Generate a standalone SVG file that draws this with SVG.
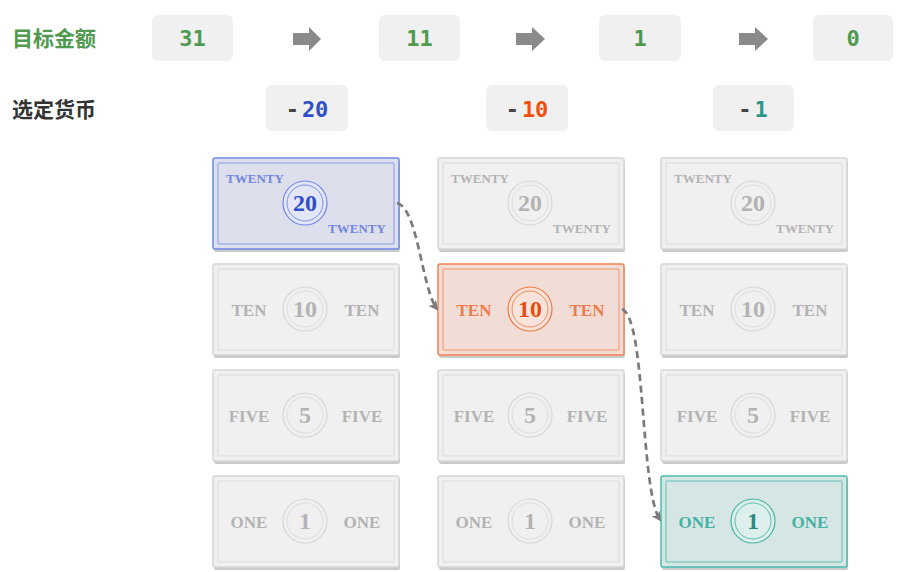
<svg xmlns="http://www.w3.org/2000/svg" width="906" height="572" viewBox="0 0 906 572">
<defs>
<style>
.lbl{font-family:"Noto Sans CJK SC","Noto Sans",sans-serif;font-size:21px;font-weight:bold}
.box{fill:#f0f0f0}
.num{font-family:"DejaVu Sans Mono","Liberation Mono",monospace;font-size:22px;font-weight:bold;text-anchor:middle}
.g{fill:#4f9a4f}
.minus{fill:#444}
.arr{fill:#8a8a8a}
.shadow{fill:#cacaca}
.word{font-family:"Liberation Serif","DejaVu Serif",serif;font-weight:bold;text-anchor:middle}
.w17{font-size:17px}
.w13{font-size:13px}
.big{font-family:"Liberation Serif","DejaVu Serif",serif;font-weight:bold;font-size:24px;text-anchor:middle}
.gray .out{fill:#f0f0f0;stroke:#d6d6d6;stroke-width:1.5}
.gray .in{fill:none;stroke:#dadada;stroke-width:1}
.gray .c1{fill:#f0f0f0;stroke:#d6d6d6;stroke-width:1.2}
.gray .c2{fill:none;stroke:#dcdcdc;stroke-width:1}
.gray text{fill:#b3b3b3}
.blue .out{fill:#dde0ec;stroke:#6f87e4;stroke-width:1.5}
.blue .in{fill:none;stroke:#8799e2;stroke-width:1}
.blue .c1{fill:#e2e6f6;stroke:#6f87e4;stroke-width:1.2}
.blue .c2{fill:none;stroke:#7b91e4;stroke-width:1}
.blue text{fill:#7086dc}
.blue text.big{fill:#2f4ec8}
.orange .out{fill:#f1ddd6;stroke:#f58352;stroke-width:1.5}
.orange .in{fill:none;stroke:#f3926a;stroke-width:1}
.orange .c1{fill:#f8e3da;stroke:#f27840;stroke-width:1.2}
.orange .c2{fill:none;stroke:#f28a5a;stroke-width:1}
.orange text{fill:#f07a48}
.orange text.big{fill:#e34f12}
.teal .out{fill:#d6e6e4;stroke:#4cbcad;stroke-width:1.5}
.teal .in{fill:none;stroke:#5cc0b2;stroke-width:1}
.teal .c1{fill:#dcefec;stroke:#47b4a4;stroke-width:1.2}
.teal .c2{fill:none;stroke:#5cbcae;stroke-width:1}
.teal text{fill:#47b2a2}
.teal text.big{fill:#2e8a7e}
.conn{fill:none;stroke:#7a7a7a;stroke-width:2.7;stroke-dasharray:7,4.5}
</style>
<marker id="ah" viewBox="0 0 10 10" refX="8" refY="5" markerWidth="3.6" markerHeight="3.6" orient="auto" markerUnits="strokeWidth">
<path d="M0,0 L10,5 L0,10 L2.5,5 z" fill="#7a7a7a"/>
</marker>
</defs>
<rect width="906" height="572" fill="#ffffff"/>

<g id="labels">
<text class="lbl" x="12" y="46" fill="#4f9a4f">目标金额</text>
<text class="lbl" x="12" y="117" fill="#333333">选定货币</text>
</g>

<g id="amounts">
<g id="a31"><rect class="box" x="152" y="15" width="81" height="46" rx="6"/><text class="num g" x="192.5" y="46">31</text></g>
<g id="a11"><rect class="box" x="379" y="15" width="81" height="46" rx="6"/><text class="num g" x="419.5" y="46">11</text></g>
<g id="a1"><rect class="box" x="599" y="15" width="82" height="46" rx="6"/><text class="num g" x="640" y="46">1</text></g>
<g id="a0"><rect class="box" x="813" y="15" width="80" height="46" rx="6"/><text class="num g" x="853" y="46">0</text></g>
</g>

<g id="arrows">
<polygon class="arr" points="293,33 309,33 309,27 321,39 309,51 309,45 293,45"/>
<polygon class="arr" points="516,33 532,33 532,27 545,39 532,51 532,45 516,45"/>
<polygon class="arr" points="739,33 755,33 755,27 768,39 755,51 755,45 739,45"/>
</g>

<g id="selected">
<g id="s20"><rect class="box" x="266" y="85" width="82" height="46" rx="6"/><text class="num" x="307" y="117"><tspan class="minus">-</tspan><tspan fill="#2f4ec8" dx="3">20</tspan></text></g>
<g id="s10"><rect class="box" x="486" y="85" width="82" height="46" rx="6"/><text class="num" x="527" y="117"><tspan class="minus">-</tspan><tspan fill="#f0500f" dx="3">10</tspan></text></g>
<g id="s1"><rect class="box" x="713" y="85" width="81" height="46" rx="6"/><text class="num" x="753" y="117"><tspan class="minus">-</tspan><tspan fill="#2e9488" dx="3">1</tspan></text></g>
</g>

<g id="c1r1" class="blue" transform="translate(213,158)">
<rect class="shadow" x="1" y="3" width="186" height="91" rx="2"/><rect class="out" x="0" y="0" width="186" height="91" rx="2"/><rect class="in" x="5" y="5" width="176" height="81" rx="1"/><circle class="c1" cx="92" cy="45" r="22"/><circle class="c2" cx="92" cy="45" r="18"/>
<text class="word w13" x="42" y="25">TWENTY</text><text class="word w13" x="144" y="75">TWENTY</text><text class="big" x="92" y="53">20</text></g>
<g id="c2r1" class="gray" transform="translate(438,158)">
<rect class="shadow" x="1" y="3" width="186" height="91" rx="2"/><rect class="out" x="0" y="0" width="186" height="91" rx="2"/><rect class="in" x="5" y="5" width="176" height="81" rx="1"/><circle class="c1" cx="92" cy="45" r="22"/><circle class="c2" cx="92" cy="45" r="18"/>
<text class="word w13" x="42" y="25">TWENTY</text><text class="word w13" x="144" y="75">TWENTY</text><text class="big" x="92" y="53">20</text></g>
<g id="c3r1" class="gray" transform="translate(661,158)">
<rect class="shadow" x="1" y="3" width="186" height="91" rx="2"/><rect class="out" x="0" y="0" width="186" height="91" rx="2"/><rect class="in" x="5" y="5" width="176" height="81" rx="1"/><circle class="c1" cx="92" cy="45" r="22"/><circle class="c2" cx="92" cy="45" r="18"/>
<text class="word w13" x="42" y="25">TWENTY</text><text class="word w13" x="144" y="75">TWENTY</text><text class="big" x="92" y="53">20</text></g>

<g id="c1r2" class="gray" transform="translate(213,264)">
<rect class="shadow" x="1" y="3" width="186" height="91" rx="2"/><rect class="out" x="0" y="0" width="186" height="91" rx="2"/><rect class="in" x="5" y="5" width="176" height="81" rx="1"/><circle class="c1" cx="92" cy="45" r="22"/><circle class="c2" cx="92" cy="45" r="18"/>
<text class="word w17" x="36" y="52">TEN</text><text class="word w17" x="149" y="52">TEN</text><text class="big" x="92" y="53">10</text></g>
<g id="c2r2" class="orange" transform="translate(438,264)">
<rect class="shadow" x="1" y="3" width="186" height="91" rx="2"/><rect class="out" x="0" y="0" width="186" height="91" rx="2"/><rect class="in" x="5" y="5" width="176" height="81" rx="1"/><circle class="c1" cx="92" cy="45" r="22"/><circle class="c2" cx="92" cy="45" r="18"/>
<text class="word w17" x="36" y="52">TEN</text><text class="word w17" x="149" y="52">TEN</text><text class="big" x="92" y="53">10</text></g>
<g id="c3r2" class="gray" transform="translate(661,264)">
<rect class="shadow" x="1" y="3" width="186" height="91" rx="2"/><rect class="out" x="0" y="0" width="186" height="91" rx="2"/><rect class="in" x="5" y="5" width="176" height="81" rx="1"/><circle class="c1" cx="92" cy="45" r="22"/><circle class="c2" cx="92" cy="45" r="18"/>
<text class="word w17" x="36" y="52">TEN</text><text class="word w17" x="149" y="52">TEN</text><text class="big" x="92" y="53">10</text></g>

<g id="c1r3" class="gray" transform="translate(213,370)">
<rect class="shadow" x="1" y="3" width="186" height="91" rx="2"/><rect class="out" x="0" y="0" width="186" height="91" rx="2"/><rect class="in" x="5" y="5" width="176" height="81" rx="1"/><circle class="c1" cx="92" cy="45" r="22"/><circle class="c2" cx="92" cy="45" r="18"/>
<text class="word w17" x="36" y="52">FIVE</text><text class="word w17" x="149" y="52">FIVE</text><text class="big" x="92" y="53">5</text></g>
<g id="c2r3" class="gray" transform="translate(438,370)">
<rect class="shadow" x="1" y="3" width="186" height="91" rx="2"/><rect class="out" x="0" y="0" width="186" height="91" rx="2"/><rect class="in" x="5" y="5" width="176" height="81" rx="1"/><circle class="c1" cx="92" cy="45" r="22"/><circle class="c2" cx="92" cy="45" r="18"/>
<text class="word w17" x="36" y="52">FIVE</text><text class="word w17" x="149" y="52">FIVE</text><text class="big" x="92" y="53">5</text></g>
<g id="c3r3" class="gray" transform="translate(661,370)">
<rect class="shadow" x="1" y="3" width="186" height="91" rx="2"/><rect class="out" x="0" y="0" width="186" height="91" rx="2"/><rect class="in" x="5" y="5" width="176" height="81" rx="1"/><circle class="c1" cx="92" cy="45" r="22"/><circle class="c2" cx="92" cy="45" r="18"/>
<text class="word w17" x="36" y="52">FIVE</text><text class="word w17" x="149" y="52">FIVE</text><text class="big" x="92" y="53">5</text></g>

<g id="c1r4" class="gray" transform="translate(213,476)">
<rect class="shadow" x="1" y="3" width="186" height="91" rx="2"/><rect class="out" x="0" y="0" width="186" height="91" rx="2"/><rect class="in" x="5" y="5" width="176" height="81" rx="1"/><circle class="c1" cx="92" cy="45" r="22"/><circle class="c2" cx="92" cy="45" r="18"/>
<text class="word w17" x="36" y="52">ONE</text><text class="word w17" x="149" y="52">ONE</text><text class="big" x="92" y="53">1</text></g>
<g id="c2r4" class="gray" transform="translate(438,476)">
<rect class="shadow" x="1" y="3" width="186" height="91" rx="2"/><rect class="out" x="0" y="0" width="186" height="91" rx="2"/><rect class="in" x="5" y="5" width="176" height="81" rx="1"/><circle class="c1" cx="92" cy="45" r="22"/><circle class="c2" cx="92" cy="45" r="18"/>
<text class="word w17" x="36" y="52">ONE</text><text class="word w17" x="149" y="52">ONE</text><text class="big" x="92" y="53">1</text></g>
<g id="c3r4" class="teal" transform="translate(661,476)">
<rect class="shadow" x="1" y="3" width="186" height="91" rx="2"/><rect class="out" x="0" y="0" width="186" height="91" rx="2"/><rect class="in" x="5" y="5" width="176" height="81" rx="1"/><circle class="c1" cx="92" cy="45" r="22"/><circle class="c2" cx="92" cy="45" r="18"/>
<text class="word w17" x="36" y="52">ONE</text><text class="word w17" x="149" y="52">ONE</text><text class="big" x="92" y="53">1</text></g>

<g id="connectors">
<path class="conn" d="M397,203 C418,208 422,290 437,309" marker-end="url(#ah)"/>
<path class="conn" d="M622,309 C646,318 640,490 660,520" marker-end="url(#ah)"/>
</g>
</svg>
